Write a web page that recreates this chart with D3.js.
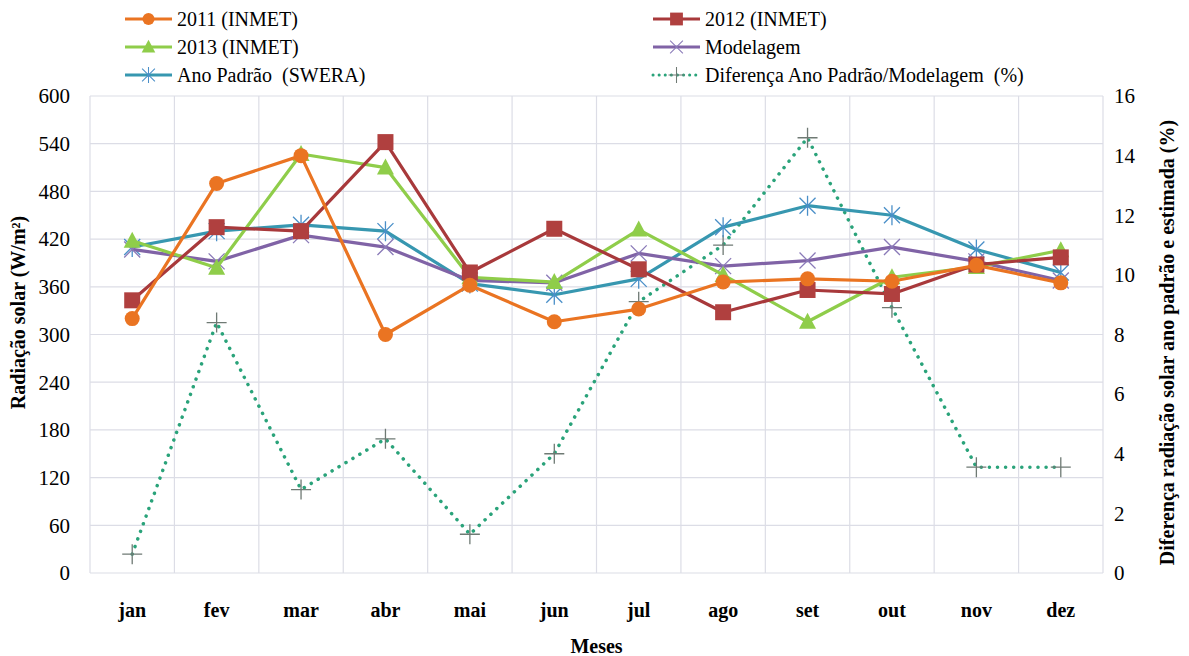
<!DOCTYPE html>
<html>
<head>
<meta charset="utf-8">
<script src="https://cdn.jsdelivr.net/npm/d3@7"></script>
<style>
  body { margin: 0; background: #fff; }
</style>
</head>
<body>
<div id="chart"></div>
<script>
var months = ["jan", "fev", "mar", "abr", "mai", "jun", "jul", "ago", "set", "out", "nov", "dez"];
var leftTicks = [0, 60, 120, 180, 240, 300, 360, 420, 480, 540, 600];
var rightTicks = [0, 2, 4, 6, 8, 10, 12, 14, 16];

var inmet2011 = [320, 490, 525, 300, 362, 316, 332, 366, 370, 367, 387, 365];
var inmet2012 = [343, 435, 430, 542, 378, 433, 382, 328, 356, 351, 388, 397];
var inmet2013 = [418, 384, 527, 510, 372, 366, 432, 375, 316, 372, 385, 406];
var modelagem = [407, 392, 425, 410, 368, 365, 402, 386, 393, 410, 392, 368];
var swera     = [410, 430, 438, 430, 364, 350, 370, 435, 462, 450, 407, 378];
var diferenca = [0.63, 8.4, 2.8, 4.5, 1.3, 4.0, 9.1, 11.0, 14.6, 8.9, 3.55, 3.55];

var W = 1189, H = 656;
var margin = {top: 96, right: 86, bottom: 83, left: 90},
    width = W - margin.left - margin.right,
    height = H - margin.top - margin.bottom;

var svg = d3.select("#chart").append("svg")
    .attr("width", W)
    .attr("height", H);

var g = svg.append("g")
    .attr("transform", "translate(" + margin.left + "," + margin.top + ")");

var x = d3.scaleBand().domain(months).range([0, width]);
var y = d3.scaleLinear().domain([0, 600]).range([height, 0]);
var y2 = d3.scaleLinear().domain([0, 16]).range([height, 0]);
var cx = function(i) { return x(months[i]) + x.bandwidth() / 2; };

// grid
g.append("g").selectAll("line")
    .data(leftTicks)
    .enter().append("line")
    .attr("x1", 0).attr("x2", width)
    .attr("y1", function(d) { return y(d); })
    .attr("y2", function(d) { return y(d); })
    .attr("stroke", "#dcdde6").attr("stroke-width", 1.2);

g.append("g").selectAll("line")
    .data(months.concat(["end"]))
    .enter().append("line")
    .attr("x1", function(d, i) { return i * x.bandwidth(); })
    .attr("x2", function(d, i) { return i * x.bandwidth(); })
    .attr("y1", 0).attr("y2", height)
    .attr("stroke", "#dcdde6").attr("stroke-width", 1.2);

// axes labels
g.append("g").selectAll("text")
    .data(leftTicks)
    .enter().append("text")
    .attr("x", -20)
    .attr("y", function(d) { return y(d); })
    .attr("dy", "0.35em")
    .attr("text-anchor", "end")
    .style("font-size", "21px")
    .text(function(d) { return d; });

g.append("g").selectAll("text")
    .data(rightTicks)
    .enter().append("text")
    .attr("x", width + 11)
    .attr("y", function(d) { return y2(d); })
    .attr("dy", "0.35em")
    .attr("text-anchor", "start")
    .style("font-size", "21px")
    .text(function(d) { return d; });

g.append("g").selectAll("text")
    .data(months)
    .enter().append("text")
    .attr("x", function(d) { return x(d) + x.bandwidth() / 2; })
    .attr("y", height + 44)
    .attr("text-anchor", "middle")
    .style("font-size", "20px")
    .style("font-weight", "bold")
    .text(function(d) { return d; });

svg.append("text")
    .attr("x", margin.left + width / 2)
    .attr("y", 653)
    .attr("text-anchor", "middle")
    .style("font-size", "20px")
    .style("font-weight", "bold")
    .text("Meses");

svg.append("text")
    .attr("transform", "translate(25," + (margin.top + height / 2 - 22) + ") rotate(-90)")
    .attr("text-anchor", "middle")
    .style("font-size", "20px")
    .style("font-weight", "bold")
    .text("Radiação solar (W/m²)");

svg.append("text")
    .attr("transform", "translate(1174," + (margin.top + height / 2 + 8) + ") rotate(-90)")
    .attr("text-anchor", "middle")
    .style("font-size", "20px")
    .style("font-weight", "bold")
    .text("Diferença radiação solar ano padrão e estimada (%)");

// marker drawing
function drawMarker(sel, type, color) {
    if (type == "circle") {
        sel.append("circle").attr("r", 7.5).attr("fill", color);
    } else if (type == "square") {
        sel.append("rect").attr("x", -8).attr("y", -8).attr("width", 16).attr("height", 16).attr("fill", color);
    } else if (type == "triangle") {
        sel.append("path").attr("d", "M0,-9L8.5,7L-8.5,7Z").attr("fill", color);
    } else if (type == "x") {
        sel.append("path").attr("d", "M-8,-8L8,8M-8,8L8,-8").attr("stroke", color).attr("stroke-width", 1.3).attr("fill", "none");
    } else if (type == "star") {
        sel.append("path").attr("d", "M-8,-8L8,8M-8,8L8,-8M0,-10L0,10").attr("stroke", color).attr("stroke-width", 1.3).attr("fill", "none");
    } else if (type == "plus") {
        sel.append("path").attr("d", "M-10,0L10,0M0,-10L0,10").attr("stroke", color).attr("stroke-width", 1.3).attr("fill", "none");
    }
}

var series = [
    {name: "2011 (INMET)", values: inmet2011, color: "#ea7422", marker: "circle", markerColor: "#ea7422", scale: y},
    {name: "2012 (INMET)", values: inmet2012, color: "#a8393b", marker: "square", markerColor: "#b0403f", scale: y},
    {name: "2013 (INMET)", values: inmet2013, color: "#8fcd4a", marker: "triangle", markerColor: "#8fcd4a", scale: y},
    {name: "Modelagem", values: modelagem, color: "#8063a6", marker: "x", markerColor: "#8a7ab8", scale: y},
    {name: "Ano Padrão  (SWERA)", values: swera, color: "#3797b0", marker: "star", markerColor: "#4a8fc8", scale: y},
    {name: "Diferença Ano Padrão/Modelagem  (%)", values: diferenca, color: "#2aa37a", marker: "plus", markerColor: "#6f7a74", scale: y2, dotted: true}
];

var drawOrder = [5, 4, 3, 2, 1, 0];
drawOrder.forEach(function(k) {
    var s = series[k];
    var line = d3.line()
        .x(function(d, i) { return cx(i); })
        .y(function(d) { return s.scale(d); });
    g.append("path")
        .datum(s.values)
        .attr("fill", "none")
        .attr("stroke", s.color)
        .attr("stroke-width", s.dotted ? 3.5 : 3.2)
        .attr("stroke-linecap", s.dotted ? "round" : "butt")
        .attr("stroke-dasharray", s.dotted ? "0.1,8" : null)
        .attr("stroke-linejoin", "round")
        .attr("d", line);
    g.append("g").selectAll("g")
        .data(s.values)
        .enter().append("g")
        .attr("transform", function(d, i) { return "translate(" + cx(i) + "," + s.scale(d) + ")"; })
        .each(function() { drawMarker(d3.select(this), s.marker, s.markerColor); });
});

// legend
var legendPos = [
    [125, 19], [653, 19],
    [125, 47], [653, 47],
    [125, 75], [653, 75]
];
series.forEach(function(s, i) {
    var lg = svg.append("g").attr("transform", "translate(" + legendPos[i][0] + "," + legendPos[i][1] + ")");
    lg.append("line")
        .attr("x1", 0).attr("x2", 47)
        .attr("stroke", s.color)
        .attr("stroke-width", s.dotted ? 3 : 3.2)
        .attr("stroke-linecap", s.dotted ? "round" : "butt")
        .attr("stroke-dasharray", s.dotted ? "0.1,6" : null);
    var m = lg.append("g").attr("transform", "translate(23.5,0) scale(0.8)");
    drawMarker(m, s.marker, s.markerColor);
    lg.append("text")
        .attr("x", 52)
        .attr("dy", "0.35em")
        .style("font-size", "20px")
        .style("white-space", "pre")
        .text(s.name);
});

// serif everywhere, like the original
svg.selectAll("text").style("font-family", "'Liberation Serif'");
</script>
</body>
</html>
